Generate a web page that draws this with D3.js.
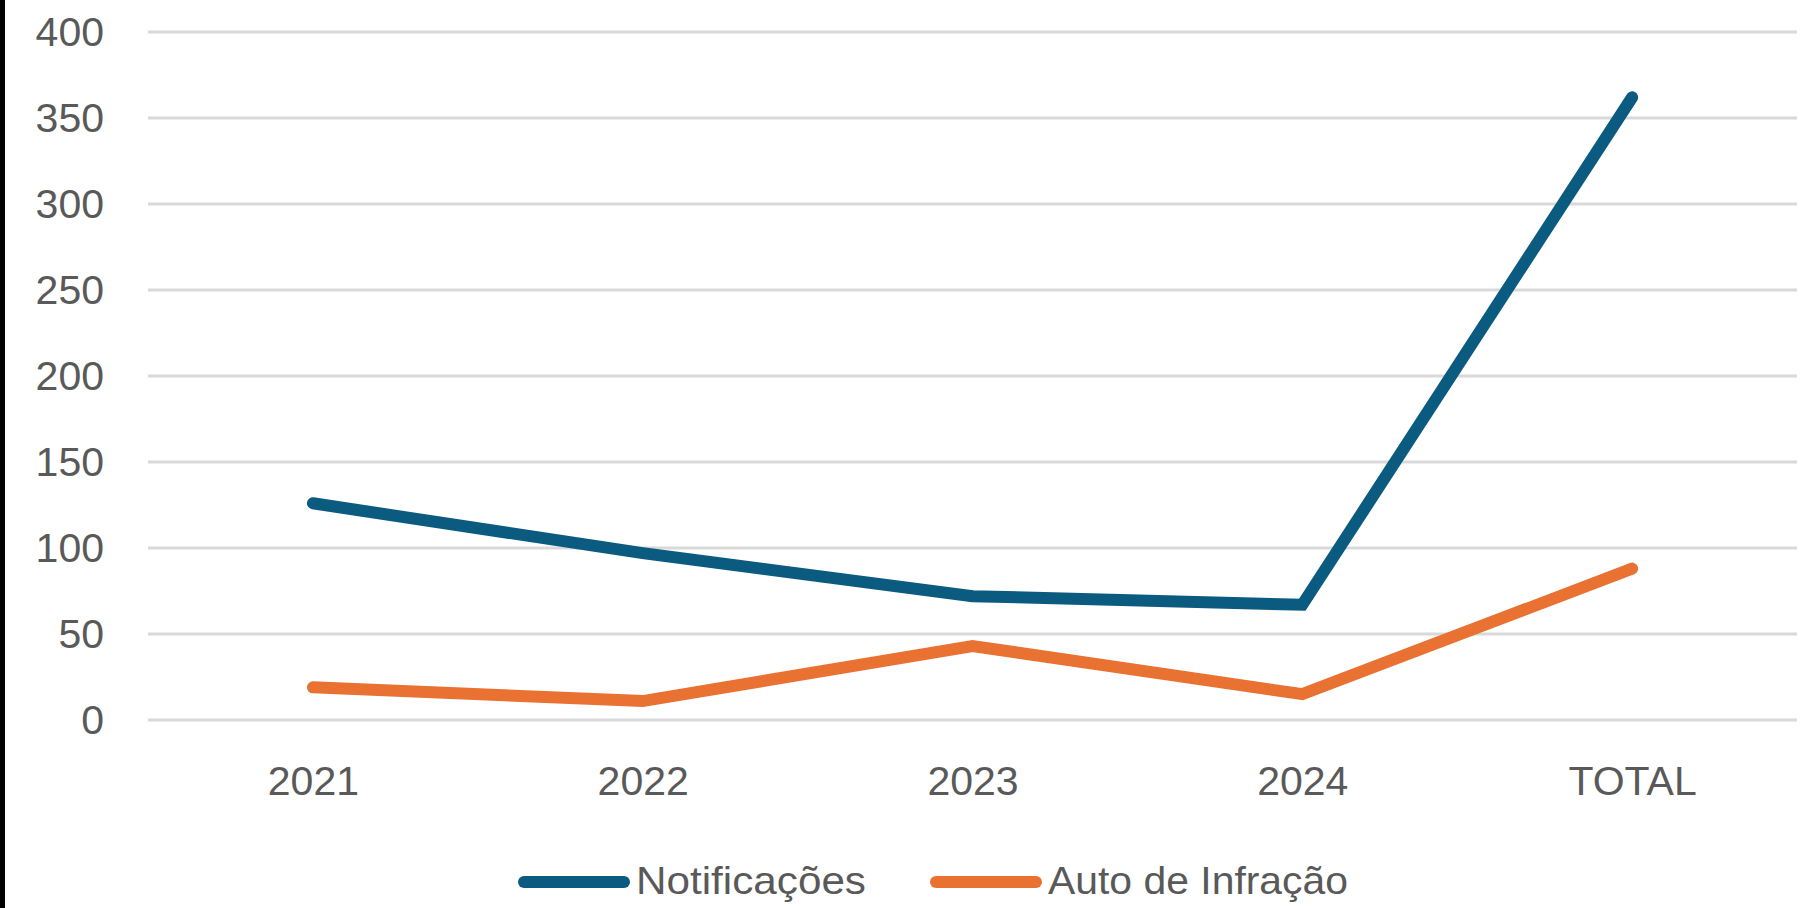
<!DOCTYPE html>
<html>
<head>
<meta charset="utf-8">
<script src="https://cdn.jsdelivr.net/npm/d3@7"></script>
<style>
	body { margin:0; background:#fff; }
	svg { display:block; }
</style>
</head>
<body>
<div id="main"></div>
<script>
var categories = ["2021","2022","2023","2024","TOTAL"];
var notificacoes = [126, 97, 72, 67, 362];
var autoInfracao = [19, 11, 43, 15, 88];
var yTicks = [0, 50, 100, 150, 200, 250, 300, 350, 400];
var seriesNames = ["Notificações", "Auto de Infração"];
var seriesColors = ["#0b5b80", "#e97132"];

function draw_chart(){
	var width = 1806, height = 908;
	var plotLeft = 148, plotRight = 1797, plotTop = 32, plotBottom = 720;

	var svg = d3.select("#main").append("svg")
		.attr("width", width).attr("height", height);

	// black strip on the left edge
	svg.append("rect").attr("x",0).attr("y",0).attr("width",5).attr("height",height).attr("fill","#000");

	var x = d3.scalePoint().domain(categories).range([plotLeft, plotRight]).padding(0.5);
	var y = d3.scaleLinear().domain([0, 400]).range([plotBottom, plotTop]);

	// gridlines
	svg.append("g").selectAll("line")
		.data(yTicks).enter()
		.append("line")
		.attr("x1", plotLeft).attr("x2", plotRight)
		.attr("y1", function(d){ return y(d); })
		.attr("y2", function(d){ return y(d); })
		.attr("stroke", "#d9d9d9").attr("stroke-width", 3);

	// y axis labels
	var yAxis = d3.axisLeft(y).tickValues(yTicks).tickSize(0).tickPadding(0);
	var gy = svg.append("g").attr("transform", "translate(104,0)").call(yAxis);
	gy.select(".domain").remove();
	gy.selectAll("text")
		.attr("font-family", "'Liberation Sans', Arial, sans-serif")
		.attr("font-size", 41).attr("fill", "#595959");

	// x axis labels
	var xAxis = d3.axisBottom(x).tickSize(0).tickPadding(0);
	var gx = svg.append("g").attr("transform", "translate(0,765)").call(xAxis);
	gx.select(".domain").remove();
	gx.selectAll("text")
		.attr("font-family", "'Liberation Sans', Arial, sans-serif")
		.attr("font-size", 41).attr("fill", "#595959")
		.attr("dy", "0").attr("y", 30);

	var line = d3.line()
		.x(function(d, i){ return x(categories[i]); })
		.y(function(d){ return y(d); });

	var allSeries = [notificacoes, autoInfracao];
	svg.append("g").selectAll("path")
		.data(allSeries).enter()
		.append("path")
		.attr("d", line)
		.attr("fill", "none")
		.attr("stroke", function(d, i){ return seriesColors[i]; })
		.attr("stroke-width", 12)
		.attr("stroke-linecap", "round")
		.attr("stroke-linejoin", "miter");

	// legend
	var legendX = [524, 936];
	var legendTextLen = [230, 300];
	var legend = svg.append("g").selectAll("g")
		.data(seriesNames).enter()
		.append("g")
		.attr("transform", function(d, i){ return "translate(" + legendX[i] + ",882)"; });

	legend.append("line")
		.attr("x1", 0).attr("x2", 100).attr("y1", 0).attr("y2", 0)
		.attr("stroke", function(d, i){ return seriesColors[i]; })
		.attr("stroke-width", 12)
		.attr("stroke-linecap", "round");

	legend.append("text")
		.attr("x", 112).attr("y", 12)
		.attr("font-family", "'Liberation Sans', Arial, sans-serif")
		.attr("font-size", 39)
		.attr("fill", "#595959")
		.attr("textLength", function(d, i){ return legendTextLen[i]; })
		.attr("lengthAdjust", "spacingAndGlyphs")
		.text(function(d){ return d; });
}

draw_chart();
</script>
</body>
</html>
